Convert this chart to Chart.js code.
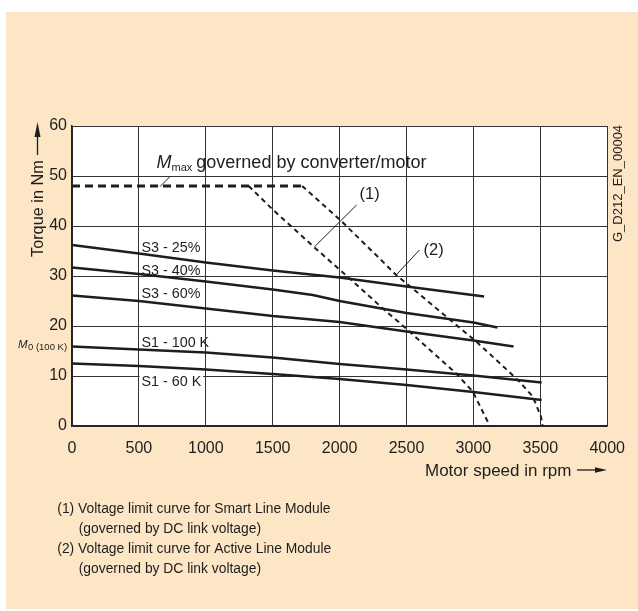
<!DOCTYPE html>
<html>
<head>
<meta charset="utf-8">
<script src="https://cdn.jsdelivr.net/npm/chart.js@4.4.1/dist/chart.umd.min.js"></script>
<style>
  body { margin: 0; background: #fff; }
  canvas { display: block; }
</style>
</head>
<body>
<canvas id="torqueChart" width="638" height="611"></canvas>
<script>
// axis ticks
const speedTicks = [0, 500, 1000, 1500, 2000, 2500, 3000, 3500, 4000];
const torqueTicks = [0, 10, 20, 30, 40, 50, 60];

// S3 / S1 characteristic curves (rpm, Nm)
const s3_25Rpm = [0, 500, 1000, 1500, 2000, 2500, 3080];
const s3_25Nm = [36.2, 34.5, 32.7, 31.1, 29.7, 27.9, 25.9];
const s3_40Rpm = [0, 500, 1000, 1500, 1800, 2000, 2500, 3000, 3180];
const s3_40Nm = [31.7, 30.4, 28.9, 27.3, 26.2, 25.0, 22.6, 20.7, 19.7];
const s3_60Rpm = [0, 500, 1000, 1500, 2000, 2500, 3000, 3300];
const s3_60Nm = [26.1, 25.0, 23.5, 22.0, 20.8, 18.9, 17.1, 15.9];
const s1_100Rpm = [0, 500, 1000, 1500, 2000, 2500, 3000, 3510];
const s1_100Nm = [15.9, 15.3, 14.7, 13.7, 12.4, 11.3, 10.1, 8.7];
const s1_60Rpm = [0, 500, 1000, 1500, 2000, 2500, 3000, 3510];
const s1_60Nm = [12.5, 12.0, 11.3, 10.4, 9.4, 8.2, 6.8, 5.2];

// M max plateau and the two voltage limit curves
const mMaxRpm = [0, 1720];
const mMaxNm = [48, 48];
const limit1Rpm = [1320, 1500, 1800, 2100, 2336, 2510, 2700, 2871, 2995, 3095, 3124];
const limit1Nm = [48, 43.3, 36, 28.9, 23.2, 19.2, 14.6, 10.5, 6.9, 1.5, 0];
const limit2Rpm = [1720, 2012, 2299, 2423, 2600, 2796, 3020, 3200, 3343, 3443, 3505, 3517];
const limit2Nm = [48, 41, 33.5, 30.2, 26.3, 21.9, 16.9, 12.5, 8.9, 5.9, 1.9, 0];

const pts = (xs, ys) => xs.map((x, i) => ({ x: x, y: ys[i] }));

const FONT = "'Liberation Sans', Arial, sans-serif";
const INK = '#1e1e1e';

Chart.defaults.font.family = FONT;
Chart.defaults.color = INK;

function solid(data) {
    return { data: data, borderColor: INK, borderWidth: 2.5, pointRadius: 0, fill: false, tension: 0 };
}
function dashed(data, width, dash) {
    return { data: data, borderColor: INK, borderWidth: width, borderDash: dash, pointRadius: 0, fill: false, tension: 0 };
}

function arrowHead(ctx, x, y, dx, dy, len, half) {
    // tip at (x,y), pointing along (dx,dy)
    const nx = -dy, ny = dx;
    ctx.beginPath();
    ctx.moveTo(x, y);
    ctx.lineTo(x - dx * len + nx * half, y - dy * len + ny * half);
    ctx.lineTo(x - dx * len - nx * half, y - dy * len - ny * half);
    ctx.closePath();
    ctx.fill();
}

const paperPlugin = {
    id: 'paper',
    beforeDraw(chart) {
        const { ctx, chartArea: a } = chart;
        ctx.save();
        ctx.fillStyle = '#fce6c5';
        ctx.fillRect(6, 12, 632, 597);
        ctx.fillStyle = '#ffffff';
        ctx.fillRect(a.left, a.top, a.right - a.left, a.bottom - a.top);
        ctx.restore();
    },
    afterDatasetsDraw(chart) {
        const { ctx, scales } = chart;
        const X = v => scales.x.getPixelForValue(v);
        const Y = v => scales.y.getPixelForValue(v);
        ctx.save();
        ctx.fillStyle = INK;
        ctx.strokeStyle = INK;
        ctx.textBaseline = 'alphabetic';
        ctx.textAlign = 'left';

        // curve labels
        ctx.font = '14.3px ' + FONT;
        ctx.fillText('S3 - 25%', X(520), Y(34.86));
        ctx.fillText('S3 - 40%', X(520), Y(30.3));
        ctx.fillText('S3 - 60%', X(520), Y(25.54));
        ctx.fillText('S1 - 100 K', X(520), Y(15.74));
        const w60 = ctx.measureText('S1 - 60 K').width;
        ctx.fillStyle = '#fff';
        ctx.fillRect(X(520) - 2, Y(10) - 1.5, w60 + 4, 3);
        ctx.fillStyle = INK;
        ctx.fillText('S1 - 60 K', X(520), Y(8.06));

        // M max label with leader
        let x = X(632);
        const yb = Y(51.6);
        ctx.font = 'italic 18px ' + FONT;
        ctx.fillText('M', x, yb);
        x += ctx.measureText('M').width;
        ctx.font = '11px ' + FONT;
        ctx.fillText('max', x, yb + 2.5);
        x += ctx.measureText('max').width + 4;
        ctx.font = '18px ' + FONT;
        ctx.fillText('governed by converter/motor', x, yb);

        ctx.lineWidth = 1;
        ctx.beginPath();
        ctx.moveTo(X(731), Y(49.86));
        ctx.lineTo(X(657), Y(47.86));
        ctx.moveTo(X(2127), Y(44.2));
        ctx.lineTo(X(1813), Y(35.86));
        ctx.moveTo(X(2597), Y(35.2));
        ctx.lineTo(X(2423), Y(30.2));
        ctx.stroke();

        ctx.font = '16.5px ' + FONT;
        ctx.fillText('(1)', X(2149), Y(45.4));
        ctx.fillText('(2)', X(2627), Y(34.2));

        // M0 (100 K) marker left of the axis
        ctx.font = 'italic 11.5px ' + FONT;
        ctx.fillText('M', 18, Y(15.54));
        ctx.font = '9.5px ' + FONT;
        ctx.fillText('0 (100 K)', 28, Y(15.3));

        // y axis title with arrow
        ctx.save();
        ctx.translate(43, 257);
        ctx.rotate(-Math.PI / 2);
        ctx.font = '16.3px ' + FONT;
        ctx.fillText('Torque in Nm', 0, 0);
        ctx.restore();
        ctx.lineWidth = 1.3;
        ctx.beginPath();
        ctx.moveTo(37.5, 155);
        ctx.lineTo(37.5, 134);
        ctx.stroke();
        arrowHead(ctx, 37.5, 122, 0, -1, 15, 3);

        // x axis title with arrow
        ctx.font = '17px ' + FONT;
        ctx.fillText('Motor speed in rpm', 425, 476);
        ctx.beginPath();
        ctx.moveTo(577, 470);
        ctx.lineTo(598, 470);
        ctx.stroke();
        arrowHead(ctx, 607, 470, 1, 0, 12, 2.8);

        // drawing number on the right
        ctx.save();
        ctx.translate(622, 242);
        ctx.rotate(-Math.PI / 2);
        ctx.font = '13px ' + FONT;
        ctx.fillText('G_D212_EN_00004', 0, 0);
        ctx.restore();

        // notes below the chart
        const notes = [
            ['(1) Voltage limit curve for Smart Line Module', 57.3, 513],
            ['(governed by DC link voltage)', 78.7, 533],
            ['(2) Voltage limit curve for Active Line Module', 57.3, 553],
            ['(governed by DC link voltage)', 78.7, 572.5]
        ];
        ctx.font = '15.3px ' + FONT;
        notes.forEach(n => {
            ctx.save();
            ctx.translate(n[1], n[2]);
            ctx.scale(0.905, 1);
            ctx.fillText(n[0], 0, 0);
            ctx.restore();
        });
        ctx.restore();
    }
};

const chart = new Chart(document.getElementById('torqueChart').getContext('2d'), {
    type: 'line',
    data: {
        datasets: [
            solid(pts(s3_25Rpm, s3_25Nm)),
            solid(pts(s3_40Rpm, s3_40Nm)),
            solid(pts(s3_60Rpm, s3_60Nm)),
            solid(pts(s1_100Rpm, s1_100Nm)),
            solid(pts(s1_60Rpm, s1_60Nm)),
            dashed(pts(mMaxRpm, mMaxNm), 3, [8, 5]),
            dashed(pts(limit1Rpm, limit1Nm), 2, [5, 4]),
            dashed(pts(limit2Rpm, limit2Nm), 2, [5, 4])
        ]
    },
    options: {
        responsive: false,
        animation: false,
        layout: {
            padding: { top: 126, right: 30, bottom: 0, left: 0 }
        },
        plugins: {
            legend: { display: false },
            tooltip: { enabled: false }
        },
        scales: {
            x: {
                type: 'linear',
                min: 0,
                max: 4000,
                afterBuildTicks: s => { s.ticks = speedTicks.map(v => ({ value: v })); },
                afterFit: s => { s.height = 185; },
                ticks: { font: { size: 16 }, padding: 13, maxRotation: 0, autoSkip: false, color: INK,
                    callback: v => String(v) },
                grid: { color: '#333', lineWidth: 1, drawTicks: false },
                border: { color: '#222', width: 1.5 }
            },
            y: {
                min: 0,
                max: 60,
                afterBuildTicks: s => { s.ticks = torqueTicks.map(v => ({ value: v })); },
                afterFit: s => { s.width = 72; },
                ticks: { font: { size: 16 }, padding: 5, color: INK, callback: v => String(v) },
                grid: { color: '#333', lineWidth: 1, drawTicks: false },
                border: { color: '#222', width: 1.5 }
            }
        }
    },
    plugins: [paperPlugin]
});
</script>
</body>
</html>
